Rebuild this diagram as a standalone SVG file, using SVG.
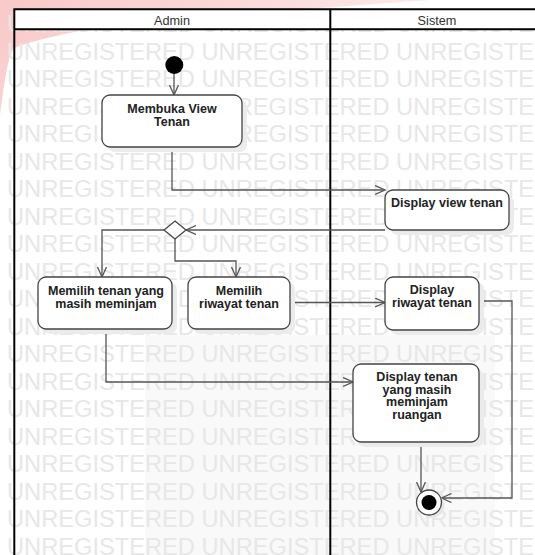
<svg xmlns="http://www.w3.org/2000/svg" width="535" height="555" viewBox="0 0 535 555">
  <defs>
    <linearGradient id="pink" x1="0" y1="0" x2="1" y2="0.3">
      <stop offset="0" stop-color="#f9c9c9"/>
      <stop offset="0.6" stop-color="#fbdcdc"/>
      <stop offset="1" stop-color="#fdeeee"/>
    </linearGradient>
    <marker id="arr" markerWidth="12" markerHeight="12" refX="10" refY="5" orient="auto" markerUnits="userSpaceOnUse">
      <path d="M0,0.5 L10,5 L0,9.5" fill="none" stroke="#555" stroke-width="1.3"/>
    </marker>
    <style>
      .wm { font-family: "Liberation Sans", Arial, sans-serif; font-size: 23px; fill: #e7e7e7; }
      .hdr { font-family: "Liberation Sans", Arial, sans-serif; font-size: 12.7px; fill: #333; text-anchor: middle; }
      .lbl { font-family: "Liberation Sans", Arial, sans-serif; font-size: 12.5px; font-weight: bold; fill: #222; text-anchor: middle; }
      .box { fill: #fff; stroke: #444; stroke-width: 1.3; }
      .shd { fill: #ebebeb; }
      .con { fill: none; stroke: #555; stroke-width: 1.3; marker-end: url(#arr); }
      .lane { fill: none; stroke: #000; stroke-width: 2; }
    </style>
  </defs>

  <!-- background artefacts -->
  <rect width="535" height="555" fill="#fff"/>
  <path d="M0,0 L430,0 C360,5 250,13 150,21 C90,27 40,38 14,48 C8,55 4,85 0,115 Z" fill="url(#pink)"/>
  <rect x="145" y="335" width="350" height="220" fill="#f9f9f9"/>

  <g id="watermark">
    <text class="wm" x="7" y="32" textLength="577" lengthAdjust="spacingAndGlyphs">UNREGISTERED UNREGISTERED UNREGISTERED</text>
    <text class="wm" x="7" y="59.5" textLength="577" lengthAdjust="spacingAndGlyphs">UNREGISTERED UNREGISTERED UNREGISTERED</text>
    <text class="wm" x="7" y="87" textLength="577" lengthAdjust="spacingAndGlyphs">UNREGISTERED UNREGISTERED UNREGISTERED</text>
    <text class="wm" x="7" y="114.5" textLength="577" lengthAdjust="spacingAndGlyphs">UNREGISTERED UNREGISTERED UNREGISTERED</text>
    <text class="wm" x="7" y="142" textLength="577" lengthAdjust="spacingAndGlyphs">UNREGISTERED UNREGISTERED UNREGISTERED</text>
    <text class="wm" x="7" y="169.5" textLength="577" lengthAdjust="spacingAndGlyphs">UNREGISTERED UNREGISTERED UNREGISTERED</text>
    <text class="wm" x="7" y="197" textLength="577" lengthAdjust="spacingAndGlyphs">UNREGISTERED UNREGISTERED UNREGISTERED</text>
    <text class="wm" x="7" y="224.5" textLength="577" lengthAdjust="spacingAndGlyphs">UNREGISTERED UNREGISTERED UNREGISTERED</text>
    <text class="wm" x="7" y="252" textLength="577" lengthAdjust="spacingAndGlyphs">UNREGISTERED UNREGISTERED UNREGISTERED</text>
    <text class="wm" x="7" y="279.5" textLength="577" lengthAdjust="spacingAndGlyphs">UNREGISTERED UNREGISTERED UNREGISTERED</text>
    <text class="wm" x="7" y="307" textLength="577" lengthAdjust="spacingAndGlyphs">UNREGISTERED UNREGISTERED UNREGISTERED</text>
    <text class="wm" x="7" y="334.5" textLength="577" lengthAdjust="spacingAndGlyphs">UNREGISTERED UNREGISTERED UNREGISTERED</text>
    <text class="wm" x="7" y="362" textLength="577" lengthAdjust="spacingAndGlyphs">UNREGISTERED UNREGISTERED UNREGISTERED</text>
    <text class="wm" x="7" y="389.5" textLength="577" lengthAdjust="spacingAndGlyphs">UNREGISTERED UNREGISTERED UNREGISTERED</text>
    <text class="wm" x="7" y="417" textLength="577" lengthAdjust="spacingAndGlyphs">UNREGISTERED UNREGISTERED UNREGISTERED</text>
    <text class="wm" x="7" y="444.5" textLength="577" lengthAdjust="spacingAndGlyphs">UNREGISTERED UNREGISTERED UNREGISTERED</text>
    <text class="wm" x="7" y="472" textLength="577" lengthAdjust="spacingAndGlyphs">UNREGISTERED UNREGISTERED UNREGISTERED</text>
    <text class="wm" x="7" y="499.5" textLength="577" lengthAdjust="spacingAndGlyphs">UNREGISTERED UNREGISTERED UNREGISTERED</text>
    <text class="wm" x="7" y="527" textLength="577" lengthAdjust="spacingAndGlyphs">UNREGISTERED UNREGISTERED UNREGISTERED</text>
    <text class="wm" x="7" y="554.5" textLength="577" lengthAdjust="spacingAndGlyphs">UNREGISTERED UNREGISTERED UNREGISTERED</text>
  </g>

  <!-- swimlanes -->
  <g id="lanes">
    <rect x="14.3" y="9.3" width="530" height="20" fill="#fff"/>
    <path class="lane" d="M14.3,560 V9.3 H545 M14.3,29.3 H545 M330.3,9.3 V560"/>
    <text class="hdr" x="172" y="25">Admin</text>
    <text class="hdr" x="437" y="25">Sistem</text>
  </g>

  <!-- connectors -->
  <g id="connectors">
    <path class="con" d="M174,74 V95"/>
    <path class="con" d="M172,147 V190 H385"/>
    <path class="con" d="M385,230 H186"/>
    <path class="con" d="M164,230 H102 V277"/>
    <path class="con" d="M175,239 V261 H236 V277"/>
    <path class="con" d="M290,302.5 H385"/>
    <path class="con" d="M106,329 V382 H353"/>
    <path class="con" d="M479,301 H512 V498 H441.5"/>
    <path class="con" d="M421,442 V492"/>
  </g>

  <g id="start">
    <circle cx="174.3" cy="65" r="9" fill="#000"/>
  </g>

  <g id="membuka">
    <rect class="shd" x="107" y="100" width="140" height="52" rx="8"/>
    <rect class="box" x="102" y="95" width="140" height="52" rx="8"/>
    <text class="lbl" x="172" y="113">Membuka View</text>
    <text class="lbl" x="172" y="126">Tenan</text>
  </g>

  <g id="display-view">
    <rect class="shd" x="390" y="195" width="124" height="40" rx="8"/>
    <rect class="box" x="385" y="190" width="124" height="40" rx="8"/>
    <text class="lbl" x="447" y="207">Display view tenan</text>
  </g>

  <g id="decision">
    <polygon points="175,221 186,230 175,239 164,230" fill="#fff" stroke="#444" stroke-width="1.3"/>
  </g>

  <g id="memilih-tenan">
    <rect class="shd" x="43" y="282" width="134" height="52" rx="8"/>
    <rect class="box" x="38" y="277" width="134" height="52" rx="8"/>
    <text class="lbl" x="106" y="295">Memilih tenan yang</text>
    <text class="lbl" x="106" y="307.5">masih meminjam</text>
  </g>

  <g id="memilih-riwayat">
    <rect class="shd" x="193" y="282" width="102" height="52" rx="8"/>
    <rect class="box" x="188" y="277" width="102" height="52" rx="8"/>
    <text class="lbl" x="239" y="295">Memilih</text>
    <text class="lbl" x="239" y="307.5">riwayat tenan</text>
  </g>

  <g id="display-riwayat">
    <rect class="shd" x="390" y="282" width="94" height="53" rx="8"/>
    <rect class="box" x="385" y="277" width="94" height="53" rx="8"/>
    <text class="lbl" x="432" y="294">Display</text>
    <text class="lbl" x="432" y="306.5">riwayat tenan</text>
  </g>

  <g id="display-tenan">
    <rect class="shd" x="358" y="369" width="126" height="78" rx="8"/>
    <rect class="box" x="353" y="364" width="126" height="78" rx="8"/>
    <text class="lbl" x="417" y="381">Display tenan</text>
    <text class="lbl" x="417" y="393.5">yang masih</text>
    <text class="lbl" x="417" y="406">meminjam</text>
    <text class="lbl" x="417" y="418.5">ruangan</text>
  </g>

  <g id="end">
    <circle cx="432" cy="505.5" r="12.5" fill="#e6e6e6"/>
    <circle cx="429" cy="502.5" r="12.5" fill="#fff" stroke="#444" stroke-width="1.3"/>
    <circle cx="429" cy="502.5" r="7.5" fill="#000"/>
  </g>
</svg>
